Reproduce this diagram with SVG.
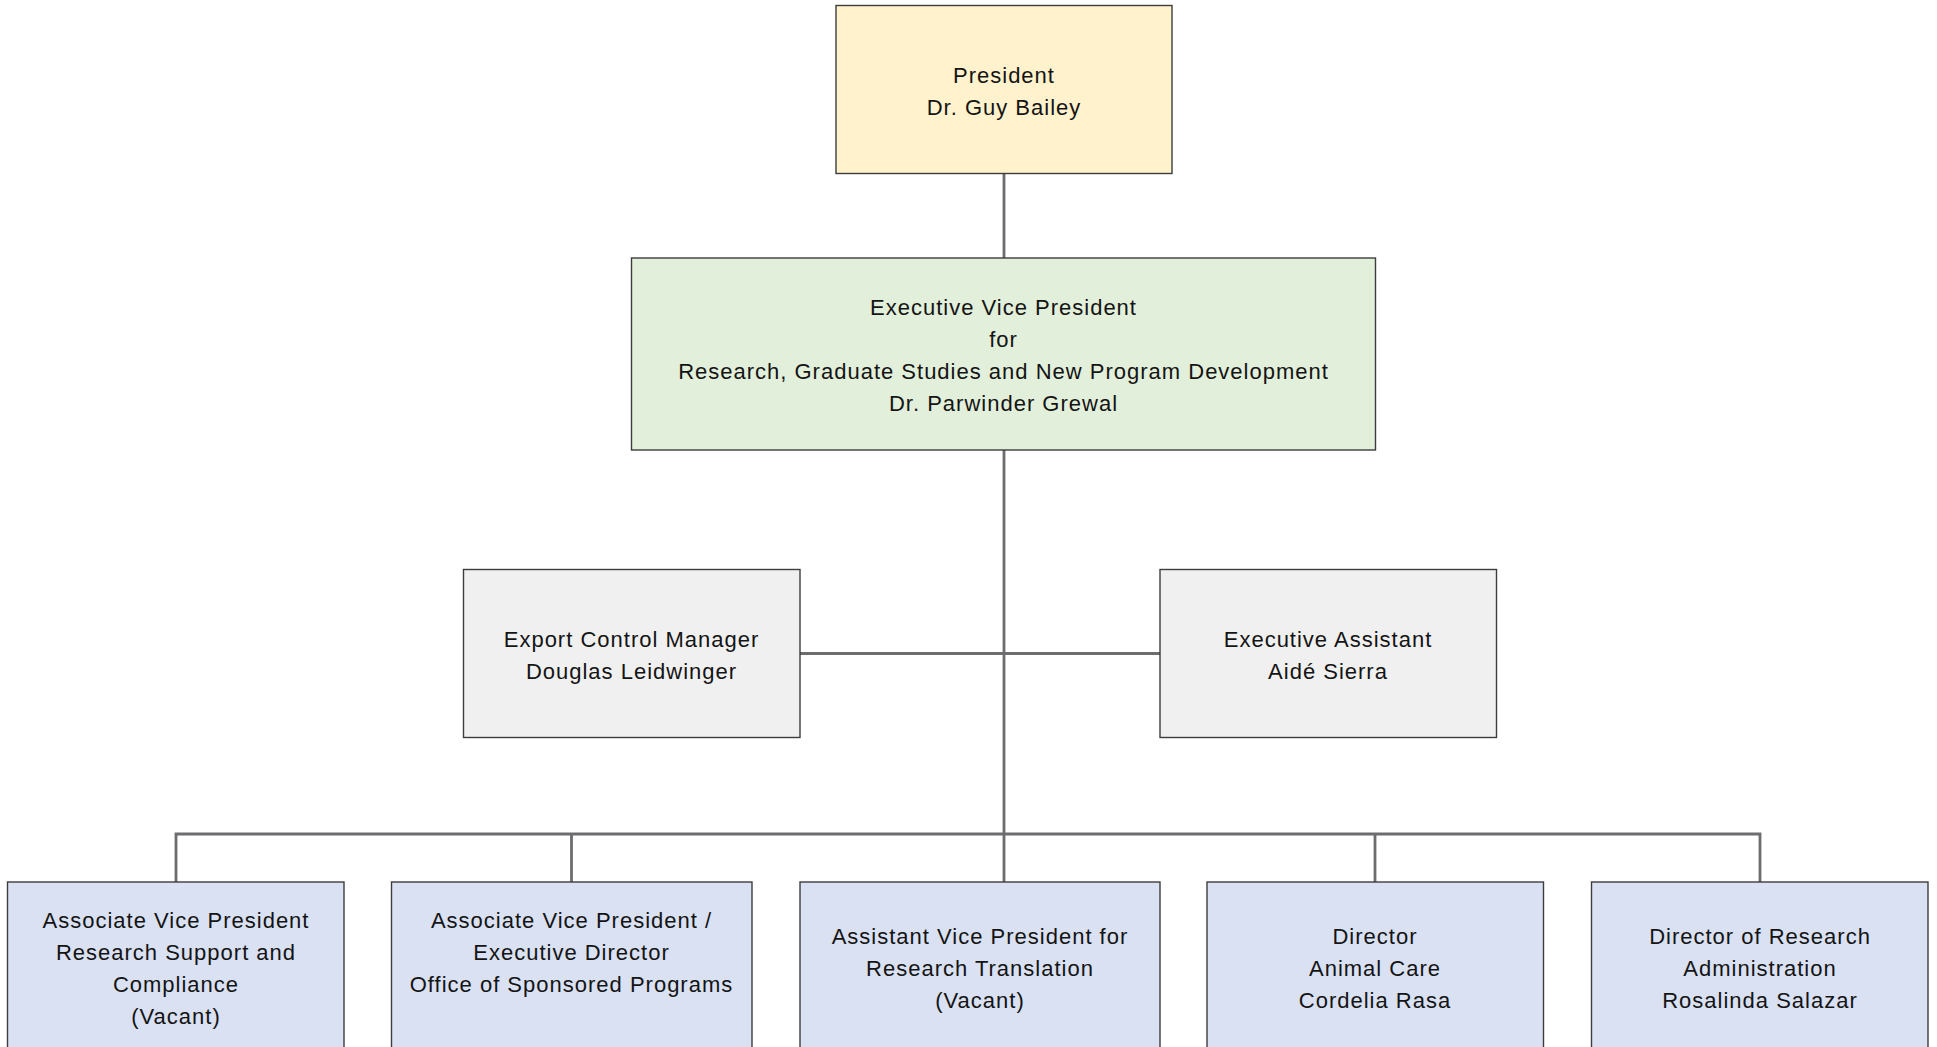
<svg xmlns="http://www.w3.org/2000/svg" width="1937" height="1047" viewBox="0 0 1937 1047">
<style>
.box{stroke:#3d3d3d;stroke-width:1.4}
.pres{fill:#fff2cc}
.evp{fill:#e2efda}
.staff{fill:#f0f0f0}
.dept{fill:#d9e1f2}
.conn{stroke:#6d6d70;stroke-width:2.8;fill:none}
text{font-family:"Liberation Sans",Arial,sans-serif;font-size:22px;letter-spacing:1px;fill:#141414;text-anchor:middle}
</style>
<rect width="1937" height="1047" fill="#ffffff"/>
<g id="connectors">
<line class="conn" x1="1004" y1="173" x2="1004" y2="258"/>
<line class="conn" x1="1004" y1="450" x2="1004" y2="882"/>
<line class="conn" x1="800" y1="653.5" x2="1160" y2="653.5"/>
<polyline class="conn" points="176,882 176,834 1760,834 1760,882"/>
<line class="conn" x1="571.5" y1="834" x2="571.5" y2="882"/>
<line class="conn" x1="1375" y1="834" x2="1375" y2="882"/>
</g>
<g id="president">
<rect class="box pres" x="836" y="5.5" width="336" height="168"/>
<text x="1004" y="83">President</text>
<text x="1004" y="115">Dr. Guy Bailey</text>
</g>
<g id="evp">
<rect class="box evp" x="631.5" y="258" width="744" height="192"/>
<text x="1003.5" y="315">Executive Vice President</text>
<text x="1003.5" y="347">for</text>
<text x="1003.5" y="379">Research, Graduate Studies and New Program Development</text>
<text x="1003.5" y="411">Dr. Parwinder Grewal</text>
</g>
<g id="export-control">
<rect class="box staff" x="463.5" y="569.5" width="336.5" height="168"/>
<text x="631.5" y="647">Export Control Manager</text>
<text x="631.5" y="679">Douglas Leidwinger</text>
</g>
<g id="exec-assistant">
<rect class="box staff" x="1160" y="569.5" width="336.5" height="168"/>
<text x="1328" y="647">Executive Assistant</text>
<text x="1328" y="679">Aidé Sierra</text>
</g>
<g id="avp-research-support">
<rect class="box dept" x="7.5" y="882" width="336.5" height="200"/>
<text x="176" y="928">Associate Vice President</text>
<text x="176" y="960">Research Support and</text>
<text x="176" y="992">Compliance</text>
<text x="176" y="1024">(Vacant)</text>
</g>
<g id="avp-osp">
<rect class="box dept" x="391.5" y="882" width="360.5" height="200"/>
<text x="571.5" y="928">Associate Vice President /</text>
<text x="571.5" y="960">Executive Director</text>
<text x="571.5" y="992">Office of Sponsored Programs</text>
</g>
<g id="asst-vp-translation">
<rect class="box dept" x="800" y="882" width="360" height="200"/>
<text x="980" y="944">Assistant Vice President for</text>
<text x="980" y="976">Research Translation</text>
<text x="980" y="1008">(Vacant)</text>
</g>
<g id="director-animal-care">
<rect class="box dept" x="1207" y="882" width="336.5" height="200"/>
<text x="1375" y="944">Director</text>
<text x="1375" y="976">Animal Care</text>
<text x="1375" y="1008">Cordelia Rasa</text>
</g>
<g id="director-research-admin">
<rect class="box dept" x="1591.5" y="882" width="336.5" height="200"/>
<text x="1760" y="944">Director of Research</text>
<text x="1760" y="976">Administration</text>
<text x="1760" y="1008">Rosalinda Salazar</text>
</g>
</svg>
